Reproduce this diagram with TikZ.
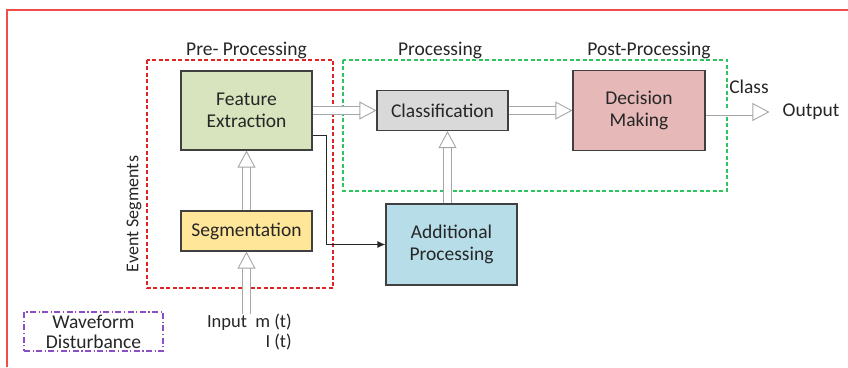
\documentclass[tikz,border=0pt]{standalone}
\usepackage{fontspec}
\setmainfont{Carlito}
\usepackage{tikz}
\usetikzlibrary{arrows.meta,positioning,calc}
\definecolor{framecolor}{HTML}{F24B4B}
\definecolor{precolor}{HTML}{E02424}
\definecolor{proccolor}{HTML}{2EC460}
\definecolor{wavecolor}{HTML}{8A4FC4}
\definecolor{edgecolor}{HTML}{404040}
\definecolor{hollowcolor}{HTML}{A6A6A6}
\definecolor{ink}{HTML}{262626}
\definecolor{featfill}{HTML}{D7E4BD}
\definecolor{segfill}{HTML}{FFE699}
\definecolor{clsfill}{HTML}{D9D9D9}
\definecolor{addfill}{HTML}{B7DEE8}
\definecolor{decfill}{HTML}{E6B9B8}
\tikzset{
  blocknode/.style={
    draw=edgecolor,
    line width=1.2pt,
    align=center,
    text=ink,
    inner sep=0pt,
    minimum width=131pt
  },
  groupbox/.style={
    line width=1.4pt,
    dash pattern=on 4pt off 2.5pt
  },
  wavebox/.style={
    draw=wavecolor,
    line width=1.3pt,
    dash pattern=on 6pt off 2.5pt on 1.2pt off 2.5pt,
    align=center,
    text=ink,
    inner sep=0pt,
    minimum width=139pt,
    minimum height=39pt,
    font=\fontsize{19.5pt}{20pt}\selectfont
  },
  titlenode/.style={text=ink, inner sep=0pt},
  hollowarrow/.style={
    draw=hollowcolor,
    line width=0.9pt,
    double=white,
    double distance=7pt,
    -{Triangle[open,length=17pt,width=18pt]}
  },
  signalarrow/.style={-{Latex[length=8pt,width=7pt]},line width=1.3pt,draw=ink}
}
\begin{document}
\begin{tikzpicture}[x=1pt,y=1pt,font=\fontsize{19.5pt}{22pt}\selectfont]
  \useasboundingbox (0,0) rectangle (848,367);
  \draw[framecolor, line width=2pt] (7,0) -- (7,357) -- (848,357);
  \draw[groupbox, draw=precolor] (147,307) rectangle (333,79);
  \draw[groupbox, draw=proccolor] (343,307) rectangle (727,176);
  \node[titlenode] (pret) at (246.5,317) {Pre- Processing};
  \node[titlenode] (proct) at (440,317) {Processing};
  \node[titlenode] (postt) at (649,317) {Post-Processing};
  \node[blocknode, fill=featfill, minimum height=79pt] (fe) at (246.5,256.5) {Feature\\Extraction};
  \node[blocknode, fill=segfill, minimum height=40pt] (seg) at (246.5,136) {Segmentation};
  \node[blocknode, fill=clsfill, minimum height=40pt] (cls) at (442.5,256.5) {Classification};
  \node[blocknode, fill=addfill, minimum height=81pt] (add) at (451.5,122.5) {Additional\\Processing};
  \node[blocknode, fill=decfill, minimum height=80pt, minimum width=132pt] (dec) at (639,256.5) {Decision\\Making};
  \node[titlenode, rotate=90, font=\fontsize{18pt}{20pt}\selectfont] (evt) at (134,153) {Event Segments};
  \node[titlenode] (cls_lbl) at (749,280) {Class};
  \node[titlenode] (out) at (811,255) {Output};
  \node[wavebox] (wave) at (93.5,35.5) {Waveform\\Disturbance};
  \node[titlenode, align=right, anchor=east, font=\fontsize{18.5pt}{20pt}\selectfont] (input) at (292,35) {Input\ \ m (t)\\I (t)};
  \draw[hollowarrow] (input.north -| seg.south) -- (seg.south);
  \draw[hollowarrow] (seg.north) -- (fe.south);
  \draw[hollowarrow] (fe.east |- cls.west) -- (cls.west);
  \draw[hollowarrow] (cls.east) -- (dec.west);
  \draw[hollowarrow] (dec.east |- out.west) -- ([xshift=-13pt]out.west);
  \draw[hollowarrow] ([xshift=-4pt]add.north) -- ([xshift=-4pt]add.north |- cls.south);
  \draw[signalarrow] ([yshift=-25pt]fe.east) -- ++(14,0) |- (add.west);
\end{tikzpicture}
\end{document}
